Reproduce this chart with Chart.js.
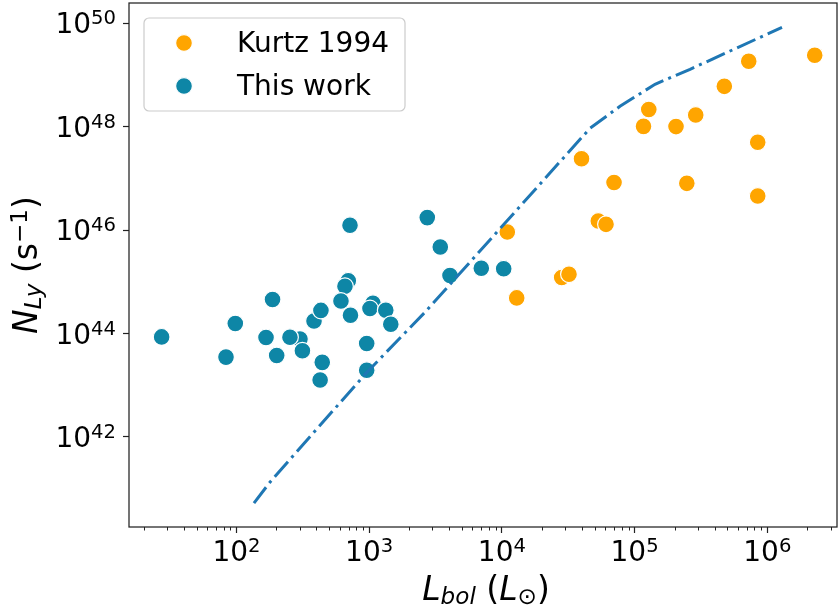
<!DOCTYPE html>
<html lang="en">
<head>
<meta charset="UTF-8">
<title>N_Ly vs L_bol</title>
<script src="https://cdn.jsdelivr.net/npm/chart.js@4"></script>
<style>
  html, body { margin: 0; padding: 0; background: #fff; }
  canvas { display: block; }
</style>
</head>
<body>
<canvas id="grafico" width="838" height="611"></canvas>
<script>
// Kurtz 1994 (L_bol em L_sol, N_Ly em s^-1)
const kurtzL = [10985, 12930, 28230, 32040, 39810, 53280, 60900, 69980, 116700, 127900,
                205100, 247400, 288700, 474300, 724400, 846600, 846600, 2276000];
const kurtzN = [9.2e45, 4.88e44, 1.21e45, 1.40e45, 2.39e47, 1.50e46, 1.29e46, 8.28e46, 1.01e48, 2.14e48,
                1.0e48, 8.0e46, 1.68e48, 6.0e48, 1.83e49, 4.98e47, 4.56e46, 2.39e49];

// This work
const thisL = [301, 27.3, 83.4, 98, 187, 167, 201, 253, 314, 384,
               433, 443, 427, 696, 657, 613, 723, 717, 1068, 1014,
               1334, 1455, 958, 958, 2740, 3434, 4064, 6996, 10318];
const thisN = [7.8e43, 8.6e43, 3.5e43, 1.56e44, 4.54e44, 8.4e43, 3.76e43, 8.5e43, 4.65e43, 1.75e44,
               2.8e44, 2.77e43, 1.26e43, 1.05e45, 8.2e44, 4.25e44, 2.26e44, 1.24e46, 3.85e44, 3.04e44,
               2.82e44, 1.51e44, 6.4e43, 1.95e43, 1.74e46, 4.69e45, 1.32e45, 1.83e45, 1.79e45];

// curva do modelo (traco-ponto)
const modelL = [135.5, 178.8, 962.5, 2634, 46130, 77620, 142500, 261600, 1290000];
const modelN = [5.26e40, 1.34e41, 1.79e43, 2.58e44, 9.27e47, 2.47e48, 6.57e48, 1.28e49, 8.3e49];

const xTicks = [1e2, 1e3, 1e4, 1e5, 1e6];
const yTicks = [1e42, 1e44, 1e46, 1e48, 1e50];
const xMin = 15.5, xMax = 3.35e6;
const yMin = 1.82e40, yMax = 2.45e50;

const LARANJA = '#FFA500';
const AZUL = '#0E86A6';
const LINHA = '#1f77b4';
const FONTE = "'DejaVu Sans', sans-serif";
const TAM = 28, TAM_SUP = 19.6;   // ticks e legenda
const TIT = 33, TIT_SUB = 23.1;   // titulos dos eixos

function pares(xs, ys) {
    return xs.map((x, i) => ({ x: x, y: ys[i] }));
}

// "10" com expoente menor, estilo mathtext
function potencia(ctx, exp, x, y, align) {
    ctx.font = TAM + 'px ' + FONTE;
    const wb = ctx.measureText('10').width;
    ctx.font = TAM_SUP + 'px ' + FONTE;
    const we = ctx.measureText(exp).width;
    const x0 = align === 'center' ? x - (wb + we) / 2 : x - wb - we;
    ctx.textAlign = 'left';
    ctx.textBaseline = 'alphabetic';
    ctx.font = TAM + 'px ' + FONTE;
    ctx.fillText('10', x0, y);
    ctx.font = TAM_SUP + 'px ' + FONTE;
    ctx.fillText(exp, x0 + wb, y - 9);
}

// texto misto: [texto, fonte, deslocamento vertical]
function sequencia(ctx, partes, cx, y) {
    let total = 0;
    partes.forEach(p => { ctx.font = p[1] + ' ' + FONTE; total += ctx.measureText(p[0]).width; });
    let x = cx - total / 2;
    ctx.textAlign = 'left';
    ctx.textBaseline = 'alphabetic';
    partes.forEach(p => {
        ctx.font = p[1] + ' ' + FONTE;
        ctx.fillText(p[0], x, y + (p[2] || 0));
        x += ctx.measureText(p[0]).width;
    });
}

const extras = {
    id: 'extras',
    afterDraw(chart) {
        const ctx = chart.ctx;
        const a = chart.chartArea;
        const sx = chart.scales.x, sy = chart.scales.y;
        ctx.save();
        ctx.fillStyle = '#000';

        // rotulos dos ticks
        xTicks.forEach(v => {
            potencia(ctx, String(Math.round(Math.log10(v))), sx.getPixelForValue(v), a.bottom + 33.5, 'center');
        });
        yTicks.forEach(v => {
            potencia(ctx, String(Math.round(Math.log10(v))), 116, sy.getPixelForValue(v) + 10.2, 'right');
        });

        // ticks menores no eixo x
        ctx.strokeStyle = '#222';
        ctx.lineWidth = 1;
        for (let d = 1; d <= 6; d++) {
            for (let m = 2; m <= 9; m++) {
                const v = m * Math.pow(10, d);
                if (v < xMin || v > xMax) continue;
                const px = Math.round(sx.getPixelForValue(v)) + 0.5;
                ctx.beginPath();
                ctx.moveTo(px, a.bottom);
                ctx.lineTo(px, a.bottom + 3.5);
                ctx.stroke();
            }
        }

        // moldura
        ctx.strokeStyle = '#222';
        ctx.lineWidth = 1.25;
        ctx.strokeRect(a.left, a.top, a.right - a.left, a.bottom - a.top);

        // titulos dos eixos
        ctx.fillStyle = '#000';
        sequencia(ctx, [
            ['L', 'italic ' + TIT + 'px'],
            ['bol', 'italic ' + TIT_SUB + 'px', 4],
            [' (', TIT + 'px'],
            ['L', 'italic ' + TIT + 'px'],
            ['\u2299', TIT_SUB + 'px', 4],
            [')', TIT + 'px']
        ], (a.left + a.right) / 2 + 3, 600);

        ctx.save();
        ctx.translate(37, (a.top + a.bottom) / 2);
        ctx.rotate(-Math.PI / 2);
        sequencia(ctx, [
            ['N', 'italic ' + TIT + 'px'],
            ['Ly', 'italic ' + TIT_SUB + 'px', 4],
            [' (s', TIT + 'px'],
            ['\u22121', TIT_SUB + 'px', -10.5],
            [')', TIT + 'px']
        ], 0, 0);
        ctx.restore();

        // legenda
        ctx.beginPath();
        ctx.roundRect(144, 18, 261, 93, 5);
        ctx.fillStyle = 'rgba(255,255,255,0.8)';
        ctx.fill();
        ctx.strokeStyle = '#cccccc';
        ctx.lineWidth = 1.2;
        ctx.stroke();
        const itens = chart.data.datasets.filter(ds => !ds.showLine);
        itens.forEach((ds, i) => {
            const y = 43 + i * 43;
            ctx.beginPath();
            ctx.arc(184, y, 8.4, 0, Math.PI * 2);
            ctx.fillStyle = ds.backgroundColor;
            ctx.fill();
            ctx.strokeStyle = '#fff';
            ctx.lineWidth = 1.2;
            ctx.stroke();
            ctx.fillStyle = '#000';
            ctx.font = TAM + 'px ' + FONTE;
            ctx.textAlign = 'left';
            ctx.textBaseline = 'alphabetic';
            ctx.fillText(ds.label, 237, y + 8.7);
        });
        ctx.restore();
    }
};

function zeraPadding(s) {
    s.paddingTop = 0; s.paddingBottom = 0; s.paddingLeft = 0; s.paddingRight = 0;
}

new Chart(document.getElementById('grafico'), {
    type: 'scatter',
    data: {
        datasets: [
            {
                label: 'modelo',
                data: pares(modelL, modelN),
                showLine: true,
                borderColor: LINHA,
                borderWidth: 3,
                borderDash: [20, 5.3, 3, 5.3],
                pointRadius: 0,
                fill: false,
                order: 0
            },
            {
                label: 'Kurtz 1994',
                data: pares(kurtzL, kurtzN),
                backgroundColor: LARANJA,
                borderColor: '#fff',
                borderWidth: 1.2,
                pointRadius: 8.4,
                order: 1
            },
            {
                label: 'This work',
                data: pares(thisL, thisN),
                backgroundColor: AZUL,
                borderColor: '#fff',
                borderWidth: 1.2,
                pointRadius: 8.4,
                order: 2
            }
        ]
    },
    options: {
        responsive: false,
        animation: false,
        events: [],
        layout: { autoPadding: false, padding: { top: 3, right: 1, left: 0, bottom: 0 } },
        plugins: {
            legend: { display: false },
            tooltip: { enabled: false }
        },
        scales: {
            x: {
                type: 'logarithmic',
                position: 'bottom',
                min: xMin,
                max: xMax,
                border: { display: false },
                grid: { drawOnChartArea: false, tickLength: 6, tickColor: '#222', tickWidth: 1.2 },
                ticks: { display: false },
                afterBuildTicks: s => { s.ticks = xTicks.map(v => ({ value: v })); },
                afterFit: s => { s.height = 84; zeraPadding(s); }
            },
            y: {
                type: 'logarithmic',
                position: 'left',
                min: yMin,
                max: yMax,
                border: { display: false },
                grid: { drawOnChartArea: false, tickLength: 6, tickColor: '#222', tickWidth: 1.2 },
                ticks: { display: false },
                afterBuildTicks: s => { s.ticks = yTicks.map(v => ({ value: v })); },
                afterFit: s => { s.width = 129; zeraPadding(s); }
            }
        }
    },
    plugins: [extras]
});
</script>
</body>
</html>
